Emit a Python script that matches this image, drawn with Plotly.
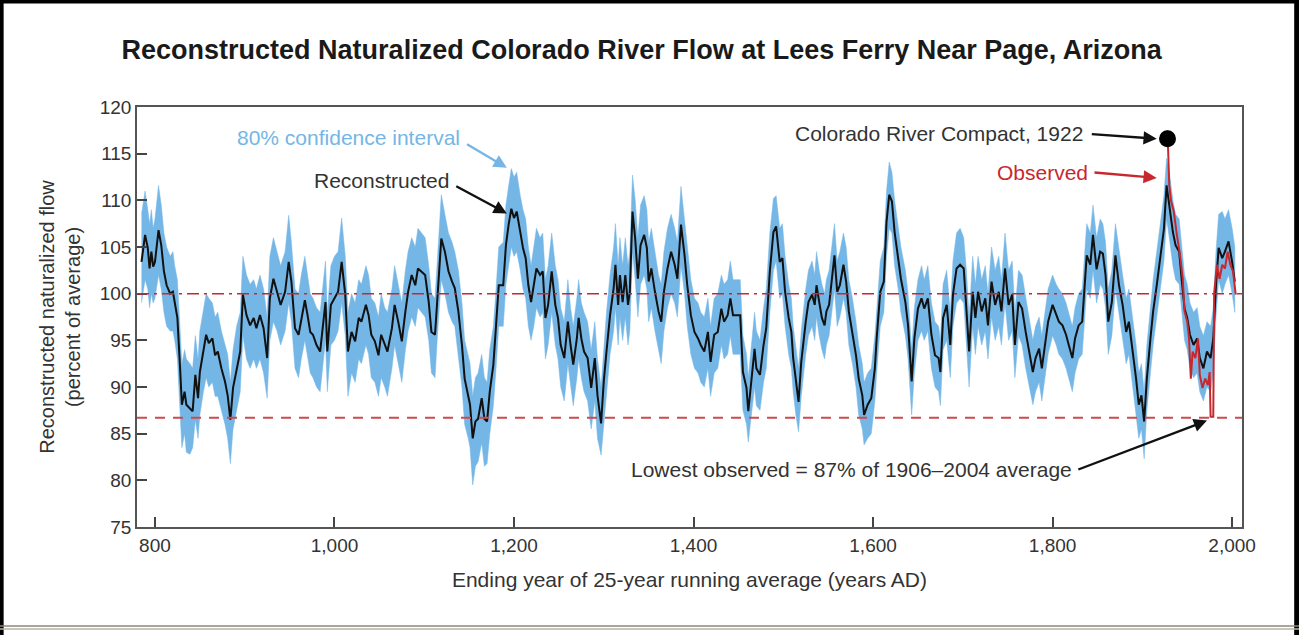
import plotly.graph_objects as go

# reconstructed 25-year running mean (percent of 1906-2004 average)
years = [
    785, 789, 792, 794, 796, 798, 800, 804, 807, 810, 813, 817, 820, 822, 825, 828, 830, 833, 835, 839,
    842, 845, 848, 850, 854, 857, 860, 864, 867, 870, 874, 878, 881, 884, 887, 891, 895, 898, 902, 906,
    910, 913, 917, 921, 925, 928, 932, 936, 940, 945, 949, 952, 956, 960, 963, 967, 970, 973, 976, 980,
    984, 988, 990, 992, 996, 1000, 1004, 1008, 1012, 1015, 1019, 1023, 1027, 1030, 1035, 1038, 1041, 1045, 1049, 1052,
    1056, 1059, 1064, 1067, 1071, 1075, 1079, 1082, 1086, 1090, 1093, 1097, 1101, 1105, 1108, 1112, 1115, 1119, 1123, 1127,
    1131, 1134, 1138, 1142, 1145, 1149, 1151, 1154, 1157, 1160, 1164, 1167, 1170, 1173, 1177, 1180, 1183, 1188, 1191, 1194,
    1197, 1200, 1203, 1207, 1210, 1213, 1216, 1219, 1222, 1225, 1229, 1232, 1235, 1238, 1242, 1246, 1249, 1252, 1256, 1260,
    1263, 1266, 1270, 1272, 1275, 1278, 1282, 1286, 1290, 1293, 1297, 1300, 1303, 1307, 1311, 1313, 1316, 1318, 1321, 1324,
    1327, 1329, 1332, 1335, 1338, 1341, 1345, 1348, 1350, 1353, 1357, 1361, 1364, 1367, 1371, 1375, 1379, 1382, 1386, 1390,
    1393, 1397, 1401, 1405, 1408, 1412, 1416, 1419, 1423, 1427, 1431, 1434, 1438, 1441, 1444, 1448, 1452, 1455, 1459, 1461,
    1464, 1468, 1470, 1474, 1478, 1481, 1485, 1489, 1492, 1494, 1496, 1499, 1502, 1506, 1509, 1511, 1514, 1517, 1520, 1522,
    1525, 1528, 1532, 1535, 1537, 1540, 1543, 1546, 1548, 1551, 1554, 1557, 1560, 1563, 1567, 1570, 1573, 1577, 1581, 1584,
    1588, 1590, 1594, 1598, 1602, 1604, 1608, 1612, 1615, 1618, 1621, 1624, 1628, 1631, 1636, 1639, 1643, 1646, 1650, 1654,
    1657, 1661, 1665, 1669, 1673, 1675, 1678, 1682, 1686, 1689, 1693, 1697, 1701, 1704, 1707, 1711, 1714, 1717, 1721, 1725,
    1728, 1732, 1736, 1740, 1743, 1747, 1751, 1755, 1758, 1762, 1766, 1770, 1774, 1778, 1781, 1785, 1788, 1792, 1795, 1800,
    1804, 1807, 1811, 1815, 1818, 1822, 1825, 1829, 1833, 1836, 1838, 1842, 1845, 1849, 1853, 1856, 1859, 1862, 1866, 1870,
    1874, 1878, 1882, 1885, 1889, 1893, 1896, 1899, 1902, 1905, 1909, 1912, 1916, 1920, 1924, 1927, 1930, 1934, 1937, 1941,
    1944, 1947, 1950, 1953, 1957, 1961, 1964, 1968, 1972, 1976, 1979, 1982, 1985, 1989, 1992, 1996, 2000, 2003,
]
flow = [
    103.4, 106.3, 104.9, 102.7, 104.5, 102.9, 103.4, 106.8, 105.2, 102.4, 100.9, 100.0, 100.2, 99.1, 97.4, 92.0, 88.1, 89.5, 88.1, 87.7,
    87.4, 91.3, 88.8, 91.6, 94.1, 95.6, 94.7, 95.2, 93.4, 93.8, 92.0, 90.6, 89.1, 86.5, 89.9, 92.0, 93.8, 99.9, 97.7, 96.6,
    97.4, 96.3, 97.7, 96.3, 93.1, 99.5, 101.6, 100.2, 98.8, 100.2, 103.4, 101.3, 96.3, 95.6, 97.4, 99.3, 97.7, 95.9, 95.6, 94.5,
    93.8, 97.4, 99.1, 93.8, 98.8, 99.5, 100.2, 103.4, 99.9, 93.8, 95.9, 94.9, 97.4, 97.0, 98.8, 97.7, 95.6, 94.9, 93.4, 95.6,
    94.5, 93.8, 96.3, 98.8, 97.0, 94.9, 98.1, 100.2, 102.0, 100.9, 102.7, 102.4, 102.0, 99.1, 95.9, 95.6, 100.2, 105.9, 104.5, 102.4,
    101.3, 100.6, 98.1, 94.5, 90.9, 89.1, 88.1, 84.5, 86.3, 86.6, 88.8, 86.6, 86.3, 89.5, 92.4, 96.6, 100.9, 100.9, 105.2, 107.4,
    109.1, 108.1, 108.8, 106.6, 104.9, 103.8, 100.9, 99.1, 100.9, 102.7, 102.0, 102.4, 97.4, 98.8, 102.4, 98.8, 97.4, 94.5, 93.1, 97.0,
    94.5, 92.4, 95.2, 97.4, 95.2, 93.8, 93.1, 89.9, 93.1, 89.1, 86.1, 90.6, 93.8, 97.7, 100.6, 103.1, 98.8, 102.0, 99.1, 102.0,
    98.8, 100.2, 108.8, 105.9, 101.6, 105.2, 106.3, 104.9, 101.3, 102.7, 100.2, 98.1, 97.0, 100.2, 102.7, 104.5, 103.1, 101.6, 107.4, 104.1,
    100.9, 97.7, 95.9, 95.2, 94.5, 93.8, 95.9, 92.7, 95.6, 95.9, 98.4, 97.0, 97.7, 99.5, 97.7, 97.7, 97.7, 91.6, 89.9, 87.4,
    90.2, 94.1, 92.0, 91.3, 94.5, 96.3, 102.4, 106.6, 107.2, 105.2, 103.4, 103.8, 100.2, 97.4, 95.9, 93.1, 90.9, 88.4, 92.7, 94.5,
    97.0, 99.1, 99.9, 98.8, 100.9, 99.1, 97.4, 96.6, 98.1, 98.8, 101.6, 104.1, 100.2, 100.9, 103.1, 101.3, 98.1, 95.9, 93.4, 90.9,
    89.1, 87.0, 88.1, 88.8, 92.0, 95.2, 100.2, 101.3, 107.7, 110.6, 109.9, 106.6, 103.8, 101.6, 99.1, 96.6, 90.6, 95.2, 98.4, 99.5,
    98.4, 99.5, 95.6, 93.4, 93.1, 91.6, 97.4, 98.8, 94.5, 99.9, 102.7, 103.1, 102.7, 98.8, 93.8, 100.2, 97.4, 100.2, 98.1, 99.5,
    96.6, 101.3, 98.8, 100.2, 98.1, 102.7, 98.8, 99.9, 94.5, 99.1, 98.4, 95.9, 93.8, 91.6, 93.1, 94.1, 92.0, 95.2, 97.0, 98.8,
    97.7, 97.0, 96.6, 95.6, 94.5, 93.1, 95.2, 96.6, 97.0, 100.9, 104.1, 103.1, 106.3, 102.6, 104.5, 104.3, 102.0, 97.0, 99.1, 104.1,
    100.9, 98.8, 95.9, 97.0, 94.1, 90.9, 88.1, 89.1, 86.3, 90.9, 95.2, 98.1, 100.9, 104.1, 106.9, 111.6, 109.5, 106.6, 105.2, 104.5,
    101.3, 98.4, 97.4, 95.6, 94.5, 95.2, 93.1, 92.0, 93.8, 93.1, 95.2, 100.9, 104.9, 103.8, 104.5, 105.6, 103.4, 101.3,
]
# 80% confidence interval edges at the same years
band_hi = [
    108.5, 111.0, 109.0, 107.5, 109.0, 107.0, 108.0, 111.6, 109.5, 106.5, 105.0, 104.0, 104.5, 103.0, 101.5, 96.5, 92.5, 94.0, 93.0, 92.5,
    92.0, 95.5, 93.0, 96.0, 98.5, 100.0, 99.5, 99.0, 97.5, 98.0, 96.0, 94.5, 93.5, 90.5, 94.0, 96.5, 98.0, 104.0, 102.0, 101.0,
    101.5, 100.5, 102.0, 100.5, 97.5, 104.0, 106.0, 104.5, 103.0, 104.5, 108.4, 105.5, 100.5, 100.0, 102.0, 104.0, 102.0, 100.0, 99.5, 98.5,
    98.0, 101.5, 103.5, 98.0, 103.0, 104.0, 104.5, 108.1, 104.0, 98.0, 100.0, 99.0, 101.5, 101.0, 103.0, 102.0, 99.5, 99.0, 97.5, 100.0,
    98.5, 98.0, 100.5, 103.0, 101.0, 99.0, 102.5, 104.5, 106.0, 105.0, 107.0, 106.5, 106.0, 103.0, 100.0, 99.5, 104.5, 110.6, 108.5, 106.5,
    105.5, 104.5, 102.5, 99.0, 95.0, 93.5, 92.5, 89.0, 91.0, 91.5, 93.5, 91.0, 90.5, 94.0, 96.5, 100.5, 105.0, 105.5, 109.5, 111.5,
    113.4, 112.5, 113.0, 110.5, 109.0, 108.0, 105.0, 103.0, 105.0, 107.0, 106.0, 106.5, 101.5, 103.0, 106.5, 103.0, 101.5, 98.5, 97.0, 101.5,
    98.5, 96.5, 99.5, 101.5, 99.0, 98.0, 97.0, 94.0, 97.0, 93.0, 90.0, 94.5, 98.0, 102.0, 105.0, 107.5, 103.0, 106.0, 103.0, 106.0,
    103.0, 104.5, 112.7, 110.0, 106.0, 109.5, 110.5, 109.0, 105.5, 107.0, 104.5, 102.0, 101.0, 104.5, 107.0, 108.5, 107.0, 105.5, 111.5, 108.0,
    105.0, 101.5, 99.5, 99.0, 98.0, 97.5, 99.5, 96.5, 99.5, 100.0, 102.0, 101.0, 101.5, 103.5, 101.5, 101.5, 101.5, 95.5, 93.5, 91.0,
    94.0, 98.0, 96.0, 95.0, 98.5, 100.5, 106.5, 110.2, 110.5, 109.0, 107.0, 107.5, 104.0, 101.0, 99.5, 96.5, 94.5, 92.0, 96.0, 98.0,
    100.5, 102.5, 103.5, 102.0, 104.5, 102.5, 101.0, 100.0, 101.5, 102.5, 105.0, 107.5, 103.5, 104.5, 106.5, 105.0, 101.5, 99.5, 97.0, 94.5,
    92.5, 90.5, 91.5, 92.0, 95.5, 98.5, 103.5, 105.0, 111.0, 114.1, 113.0, 110.0, 107.0, 105.0, 102.5, 100.0, 94.0, 98.5, 101.5, 103.0,
    101.5, 103.0, 99.0, 97.0, 96.5, 95.0, 101.0, 102.5, 98.0, 103.5, 106.5, 107.0, 106.0, 102.5, 97.5, 104.0, 101.0, 104.0, 101.5, 103.0,
    100.0, 105.0, 102.5, 104.0, 101.5, 106.5, 102.5, 103.5, 98.0, 102.5, 102.0, 99.5, 97.5, 95.0, 96.5, 97.5, 95.5, 98.5, 100.5, 102.0,
    101.0, 100.5, 100.0, 99.0, 98.0, 96.5, 98.5, 100.0, 100.5, 104.5, 107.5, 106.5, 109.5, 106.0, 108.0, 107.5, 105.5, 100.5, 102.5, 107.5,
    104.5, 102.0, 99.5, 100.5, 97.5, 94.5, 91.5, 92.5, 89.5, 94.5, 98.5, 101.5, 104.5, 107.5, 110.5, 114.5, 113.0, 110.0, 108.5, 108.0,
    105.0, 102.0, 101.0, 99.0, 98.0, 98.5, 96.5, 95.5, 97.0, 96.5, 98.5, 104.5, 108.5, 108.8, 108.0, 109.0, 107.0, 105.0,
]
band_lo = [
    99.0, 101.5, 100.5, 98.5, 100.0, 99.0, 99.5, 102.0, 100.5, 98.0, 96.5, 96.0, 96.0, 95.0, 93.0, 87.5, 83.5, 85.0, 83.0, 82.8,
    83.5, 86.5, 84.5, 87.0, 89.5, 91.0, 90.0, 90.5, 89.0, 89.0, 87.5, 86.0, 84.5, 81.8, 85.5, 87.5, 89.5, 95.5, 93.0, 92.0,
    93.0, 92.0, 93.0, 91.5, 88.8, 95.0, 97.0, 96.0, 94.5, 96.0, 99.0, 97.0, 92.0, 91.0, 93.0, 95.0, 93.5, 91.5, 91.0, 90.0,
    89.5, 93.0, 95.0, 89.5, 94.5, 95.0, 96.0, 99.0, 95.5, 89.0, 91.5, 90.5, 93.0, 92.5, 94.5, 93.5, 91.0, 90.5, 89.0, 91.0,
    90.0, 89.0, 92.0, 94.5, 92.5, 90.5, 94.0, 96.0, 97.5, 96.5, 98.5, 98.0, 97.5, 95.0, 91.5, 91.0, 96.0, 101.5, 100.0, 98.0,
    97.0, 96.5, 93.5, 90.0, 86.0, 84.5, 83.5, 79.5, 81.5, 82.0, 84.0, 81.5, 81.8, 85.0, 88.0, 92.0, 96.5, 96.5, 101.0, 103.0,
    105.0, 104.0, 104.5, 102.5, 100.5, 99.5, 96.5, 95.0, 96.5, 98.5, 97.5, 98.0, 93.0, 94.5, 98.0, 94.5, 93.0, 90.0, 88.5, 92.5,
    90.0, 88.0, 91.0, 93.0, 91.0, 89.5, 88.5, 85.5, 88.5, 84.5, 82.7, 86.0, 89.5, 93.5, 96.0, 98.5, 94.5, 97.5, 95.0, 97.5,
    94.5, 96.0, 104.5, 101.5, 97.5, 101.0, 102.0, 100.5, 97.0, 98.5, 96.0, 94.0, 92.5, 96.0, 98.5, 100.0, 99.0, 97.5, 103.0, 100.0,
    96.5, 93.5, 92.0, 91.5, 90.5, 90.0, 92.0, 89.0, 91.5, 92.0, 94.5, 93.0, 93.5, 95.5, 93.5, 93.5, 93.5, 87.5, 86.0, 84.1,
    86.5, 90.0, 88.0, 87.5, 90.5, 92.0, 98.0, 102.5, 103.5, 101.5, 99.5, 100.0, 96.5, 93.5, 92.0, 89.5, 87.0, 85.2, 89.0, 91.0,
    93.5, 95.5, 96.5, 95.0, 97.5, 95.5, 94.0, 93.0, 94.5, 95.5, 98.0, 100.5, 96.5, 97.5, 99.5, 98.0, 94.5, 92.5, 90.0, 87.0,
    85.5, 83.8, 84.5, 85.0, 88.5, 91.5, 96.5, 98.0, 104.0, 107.0, 106.5, 103.0, 100.5, 98.0, 95.5, 93.0, 87.0, 91.5, 95.0, 96.0,
    95.0, 96.0, 92.0, 90.0, 89.5, 88.0, 94.0, 95.0, 91.0, 96.5, 99.0, 99.5, 99.0, 95.0, 90.0, 96.5, 93.5, 96.5, 94.5, 96.0,
    93.0, 97.5, 95.0, 96.5, 94.5, 99.0, 95.0, 96.0, 91.0, 95.5, 94.5, 92.0, 90.0, 88.1, 89.5, 90.5, 88.5, 91.5, 93.5, 95.5,
    94.5, 93.5, 93.0, 92.0, 91.0, 89.5, 91.5, 93.0, 93.5, 97.5, 100.5, 99.5, 102.5, 99.0, 101.0, 100.5, 98.5, 93.5, 95.5, 100.5,
    97.5, 95.0, 92.5, 93.5, 90.5, 87.0, 84.5, 85.5, 82.3, 87.5, 91.5, 94.5, 97.5, 100.5, 103.5, 108.0, 106.0, 103.0, 101.5, 101.0,
    98.0, 95.0, 94.0, 92.0, 91.0, 91.5, 89.5, 88.5, 90.0, 89.5, 91.5, 97.5, 101.5, 100.0, 101.0, 102.0, 100.0, 98.0,
]

# observed (gauged) flow, 25-year running mean
obs_years = [1928, 1930, 1932, 1935, 1938, 1942, 1945, 1947, 1950, 1952, 1954, 1956, 1959, 1962, 1964, 1967,
             1970, 1973, 1975, 1976, 1979, 1980, 1983, 1986, 1989, 1992, 1995, 1998, 2001, 2004]
obs_flow = [117.5, 111.6, 109.9, 108.8, 106.6, 104.1, 101.6, 98.1, 97.0, 95.2, 90.9, 93.8, 93.1, 95.2, 91.3, 89.9,
            90.9, 90.2, 91.6, 86.8, 86.8, 100.0, 103.1, 101.6, 103.1, 102.7, 104.5, 103.1, 102.4, 99.9]

compact_year = 1928
compact_value = 116.6
average_level = 100
lowest_observed = 86.7

BLUE = '#74b6e6'
RED = '#c8282d'
TEXT = '#333333'
FONT = 'Liberation Sans, Arial, sans-serif'

fig = go.Figure()

# confidence band as a closed polygon
fig.add_trace(go.Scatter(
    x=years + years[::-1],
    y=band_hi + band_lo[::-1],
    fill='toself',
    fillcolor=BLUE,
    line=dict(color=BLUE, width=0.5),
    mode='lines',
    hoverinfo='skip',
    showlegend=False
))
fig.add_trace(go.Scatter(
    x=years, y=flow,
    mode='lines',
    line=dict(color='#111111', width=2),
    showlegend=False
))
fig.add_trace(go.Scatter(
    x=obs_years, y=obs_flow,
    mode='lines',
    line=dict(color=RED, width=2),
    showlegend=False
))
fig.add_trace(go.Scatter(
    x=[compact_year], y=[compact_value],
    mode='markers',
    marker=dict(color='black', size=17),
    showlegend=False
))

# reference levels
fig.add_shape(type='line', xref='paper', x0=0, x1=1, y0=average_level, y1=average_level,
              line=dict(color=RED, width=1.5, dash='12px,5px,3px,5px'), layer='above')
fig.add_shape(type='line', xref='paper', x0=0, x1=1, y0=lowest_observed, y1=lowest_observed,
              line=dict(color='#cc4b4b', width=2, dash='10px,8px'), layer='above')

# outer picture frame
fig.add_shape(type='line', xref='paper', yref='paper', x0=-0.124, x1=1.052, y0=1.2535, y1=1.2535,
              line=dict(color='black', width=6))
fig.add_shape(type='line', xref='paper', yref='paper', x0=-0.1225, x1=-0.1225, y0=-0.26, y1=1.26,
              line=dict(color='black', width=4))
fig.add_shape(type='line', xref='paper', yref='paper', x0=1.0495, x1=1.0495, y0=-0.26, y1=1.26,
              line=dict(color='black', width=5))
fig.add_shape(type='line', xref='paper', yref='paper', x0=-0.124, x1=1.052, y0=-0.2355, y1=-0.2355,
              line=dict(color='#8a8a80', width=1.5))
fig.add_shape(type='line', xref='paper', yref='paper', x0=-0.124, x1=1.052, y0=-0.243, y1=-0.243,
              line=dict(color='#b8b4a0', width=1.5))

arrow = dict(showarrow=True, arrowhead=2, arrowsize=1.1, arrowwidth=2.4, axref='x', ayref='y', text='')
fig.add_annotation(x=1192, y=113.5, ax=1146, ay=116.1, arrowcolor=BLUE, **arrow)
fig.add_annotation(x=1192, y=108.6, ax=1134, ay=111.6, arrowcolor='#111111', **arrow)
fig.add_annotation(x=1916, y=116.6, ax=1842, ay=117.1, arrowcolor='#111111', **arrow)
fig.add_annotation(x=1916, y=112.4, ax=1845, ay=113.0, arrowcolor=RED, **arrow)
fig.add_annotation(x=1972, y=86.4, ax=1827, ay=81.1, arrowcolor='#111111', **arrow)

label_font = dict(family=FONT, size=21)
fig.add_annotation(x=1142, y=116.7, text='80% confidence interval', showarrow=False, xanchor='right',
                   font=dict(color=BLUE, **label_font))
fig.add_annotation(x=1130, y=112.1, text='Reconstructed', showarrow=False, xanchor='right',
                   font=dict(color=TEXT, **label_font))
fig.add_annotation(x=1836, y=117.2, text='Colorado River Compact, 1922', showarrow=False, xanchor='right',
                   font=dict(color=TEXT, **label_font))
fig.add_annotation(x=1842, y=113.0, text='Observed', showarrow=False, xanchor='right',
                   font=dict(color=RED, **label_font))
fig.add_annotation(x=1824, y=81.2, text='Lowest observed = 87% of 1906–2004 average', showarrow=False,
                   xanchor='right', font=dict(color=TEXT, **label_font))

fig.update_layout(
    width=1299,
    height=635,
    margin=dict(l=137, r=57, t=107, b=108),
    paper_bgcolor='white',
    plot_bgcolor='white',
    font=dict(family=FONT, size=19, color=TEXT),
    title=dict(
        text='<b>Reconstructed Naturalized Colorado River Flow at Lees Ferry Near Page, Arizona</b>',
        x=0.494, xanchor='center', y=0.922, yanchor='middle',
        font=dict(size=27, color='#1a1a1a')
    ),
    showlegend=False,
    hovermode='closest'
)
fig.update_xaxes(
    range=[780, 2011],
    tickvals=[800, 1000, 1200, 1400, 1600, 1800, 2000],
    tickformat=',d',
    ticks='inside', ticklen=10, tickcolor='#444', tickwidth=1.5,
    showgrid=False, zeroline=False,
    showline=True, linecolor='#555', linewidth=1.5, mirror=True,
    title=dict(text='Ending year of 25-year running average (years AD)', standoff=18, font=dict(size=21)),
)
fig.update_yaxes(
    range=[75, 120],
    dtick=5,
    ticks='inside', ticklen=10, tickcolor='#444', tickwidth=1.5,
    showgrid=False, zeroline=False,
    showline=True, linecolor='#555', linewidth=1.5, mirror=True,
    title=dict(text='Reconstructed naturalized flow<br>(percent of average)', standoff=14, font=dict(size=20)),
)

fig.write_html("out.html", config={'displayModeBar': False},
               post_script="document.body.style.margin='0';")
